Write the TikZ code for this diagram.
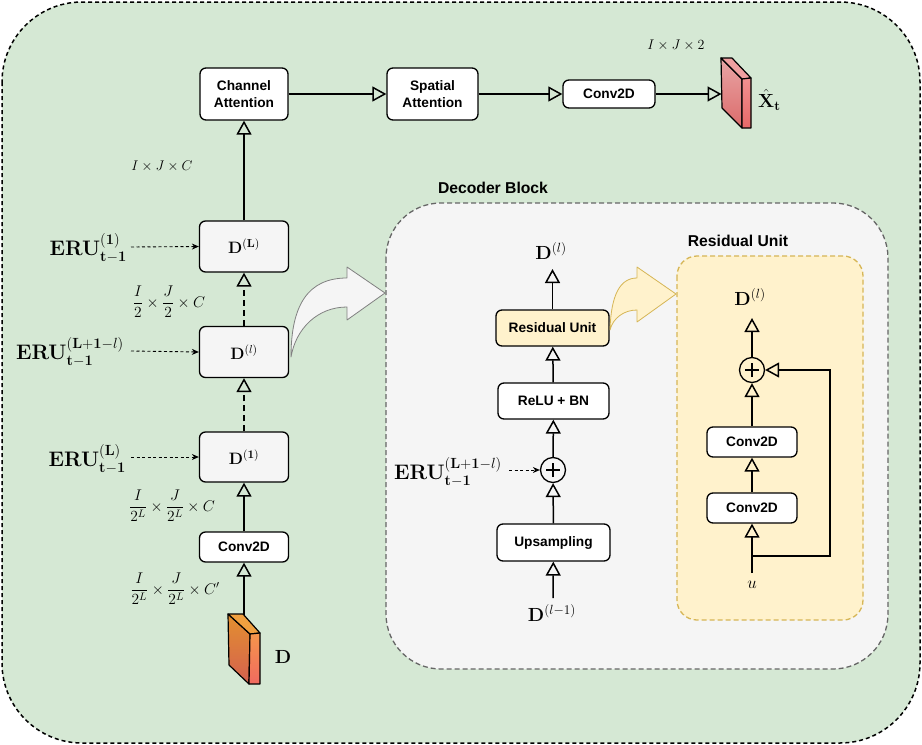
\RequirePackage{fix-cm}
\documentclass[tikz,border=0pt]{standalone}
\usepackage{amsmath}
\usepackage[no-math]{fontspec}
\setsansfont{Liberation Sans}
\usetikzlibrary{arrows.meta}
\definecolor{bggreen}{HTML}{D5E8D4}
\definecolor{bggray}{HTML}{F5F5F5}
\definecolor{ylw}{HTML}{FFF2CC}
\definecolor{ylwd}{HTML}{D6B656}
\definecolor{dgray}{HTML}{666666}
\definecolor{orA}{HTML}{E3902F}
\definecolor{orB}{HTML}{D4604F}
\definecolor{orC}{HTML}{F5964B}
\definecolor{orD}{HTML}{F06A60}
\definecolor{orT}{HTML}{F0A040}
\definecolor{rdA}{HTML}{E8A5A5}
\definecolor{rdB}{HTML}{DC6B6B}
\definecolor{rdC}{HTML}{F29090}
\definecolor{rdD}{HTML}{E86868}
\definecolor{rdT}{HTML}{F0A0A0}
\tikzset{
  box/.style={draw, line width=1.3pt, rounded corners=6pt, fill=white, align=center, inner sep=0pt,
    font=\sffamily\bfseries\fontsize{13.7}{16.5}\selectfont},
  gbox/.style={box, fill=bggray, font=\fontsize{16.5}{18}\selectfont},
  conn/.style={line width=1.5pt, -{Triangle[open,length=14pt,width=15pt]}},
  dconn/.style={conn, dash pattern=on 6pt off 4pt},
  eru/.style={line width=0.9pt, dash pattern=on 3pt off 2.5pt, -{Stealth[length=7pt,width=6pt]}},
  bigm/.style={inner sep=0pt, font=\fontsize{21}{24}\selectfont},
  medm/.style={inner sep=0pt, font=\fontsize{19}{22}\selectfont},
  dimm/.style={inner sep=0pt, font=\fontsize{14}{16}\selectfont},
  fracm/.style={inner sep=0pt, font=\fontsize{15.5}{18}\selectfont},
  title/.style={inner sep=0pt, font=\sffamily\bfseries\fontsize{15.7}{18}\selectfont},
  sumc/.style={circle, draw, line width=1.3pt, minimum size=25pt, inner sep=0pt},
  face/.style={draw, line width=1.2pt, line join=round}
}
\begin{document}
\begin{tikzpicture}[x=1pt,y=-1pt]
\useasboundingbox (0,0) rectangle (922,745);
% outer
\draw[line width=1.5pt, dash pattern=on 4pt off 3pt, fill=bggreen, rounded corners=80pt] (2,2) rectangle (920,743);
% decoder block background
\draw[dgray, line width=1.3pt, dash pattern=on 5pt off 3pt, fill=bggray, rounded corners=55pt] (386,203) rectangle (888,669);
\draw[ylwd, line width=1.3pt, dash pattern=on 5pt off 3pt, fill=ylw, rounded corners=20pt] (677,256) rectangle (863,620);
\node[title] (dectitle) at (493,188) {Decoder Block};
\node[title] (restitle) at (738,241) {Residual Unit};

% top row
\node[box, minimum width=88pt, minimum height=52pt] (ca) at (244,94) {Channel\\Attention};
\node[box, minimum width=91pt, minimum height=52pt] (sa) at (432.5,94) {Spatial\\Attention};
\node[box, minimum width=92pt, minimum height=28pt] (cv0) at (609,94) {Conv2D};
% output box
\path[face, top color=rdA, bottom color=rdB] (721,58) -- (742,79) -- (742,128) -- (722,108) -- cycle;
\path[face, fill=rdT] (721,58) -- (732,58) -- (751,78) -- (742,79) -- cycle;
\path[face, top color=rdC, bottom color=rdD] (742,79) -- (751,78) -- (751,128) -- (742,128) -- cycle;
\coordinate (xin) at (721.5,94);
\node[medm, anchor=west] (xhat) at (758,100) {$\hat{\mathbf{X}}_{\mathbf{t}}$};
\node[dimm] (dimtop) at (676,45) {$I\times J\times 2$};
\draw[conn] (ca) -- (sa);
\draw[conn] (sa) -- (cv0);
\draw[conn] (cv0) -- (xin);

% left column
\node[gbox, minimum width=89pt, minimum height=51pt] (dL) at (244,246.5) {$\mathbf{D}^{(\mathbf{L})}$};
\node[gbox, minimum width=89pt, minimum height=51pt] (dl) at (244,352) {$\mathbf{D}^{(l)}$};
\node[gbox, minimum width=89pt, minimum height=50pt] (d1) at (244,457) {$\mathbf{D}^{(\mathbf{1})}$};
\node[box, minimum width=89pt, minimum height=30pt] (cv1) at (244,547) {Conv2D};
% D input box
\path[face, top color=orA, bottom color=orB] (228,614) -- (250,634) -- (249,684) -- (229,665) -- cycle;
\path[face, fill=orT] (228,614) -- (243,614) -- (260,633) -- (250,634) -- cycle;
\path[face, top color=orC, bottom color=orD] (250,634) -- (260,633) -- (260,684) -- (249,684) -- cycle;
\coordinate (dtop) at (244,615);
\node[medm] (dlab) at (283,657) {$\mathbf{D}$};

\draw[conn] (dtop) -- (cv1);
\draw[conn] (cv1) -- (d1);
\draw[dconn] (d1) -- (dl);
\draw[dconn] (dl) -- (dL);
\draw[conn] (dL) -- (ca);

\node[dimm] (dim1) at (162,166) {$I\times J\times C$};
\node[fracm] (dim2) at (169,302) {$\dfrac{I}{2}\times\dfrac{J}{2}\times C$};
\node[fracm] (dim3) at (172,506) {$\dfrac{I}{2^L}\times\dfrac{J}{2^L}\times C$};
\node[fracm] (dim4) at (175,589) {$\dfrac{I}{2^L}\times\dfrac{J}{2^L}\times C'$};

\node[bigm, anchor=east] (eru1) at (127,248) {$\mathbf{ERU}^{(\mathbf{1})}_{\mathbf{t-1}}$};
\node[bigm, anchor=east] (eru2) at (124,352) {$\mathbf{ERU}^{(\mathbf{L+1-}l)}_{\mathbf{t-1}}$};
\node[bigm, anchor=east] (eru3) at (126,459) {$\mathbf{ERU}^{(\mathbf{L})}_{\mathbf{t-1}}$};
\coordinate (e1s) at (131,247);
\coordinate (e2s) at (131,351);
\coordinate (e3s) at (131,457);
\draw[eru] (e1s) -- (dL.west);
\draw[eru] (e2s) -- (dl.west);
\draw[eru] (e3s) -- (d1.west);

% big curved arrow to decoder block
\draw[draw=gray, line width=0.8pt, fill=bggray, line join=round] (291,357) .. controls (291,305) and (308,278) .. (347,278) -- (347,267) -- (385,293) -- (347,320) -- (347,307) .. controls (318,307) and (296,328) .. cycle;

% decoder block content
\node[box, fill=ylw, minimum width=113pt, minimum height=36pt] (ru) at (552.5,328) {Residual Unit};
\node[box, minimum width=111pt, minimum height=36pt] (relu) at (553.5,401) {ReLU + BN};
\node[sumc] (p1) at (553,470) {};
\draw[line width=1.3pt] ([xshift=-7pt]p1.center) -- ([xshift=7pt]p1.center);
\draw[line width=1.3pt] ([yshift=-7pt]p1.center) -- ([yshift=7pt]p1.center);
\node[box, minimum width=113pt, minimum height=37pt] (up) at (553.5,542.5) {Upsampling};
\node[medm] (dlo) at (551,251) {$\mathbf{D}^{(l)}$};
\node[medm] (dlm) at (552,613) {$\mathbf{D}^{(l-1)}$};
\node[bigm, anchor=east] (eru4) at (502,472) {$\mathbf{ERU}^{(\mathbf{L+1-}l)}_{\mathbf{t-1}}$};
\coordinate (dlotip) at (552.5,269);
\coordinate (dlms) at (553,598);
\coordinate (e4s) at (509,470);
\draw[conn] (ru) -- (dlotip);
\draw[conn] (relu) -- (ru);
\draw[conn] (p1) -- (relu);
\draw[conn] (up) -- (p1);
\draw[conn] (dlms) -- (up);
\draw[eru] (e4s) -- (p1.west);

% yellow curved arrow
\draw[ylwd, line width=0.8pt, fill=ylw, line join=round] (610,330) .. controls (611,295) and (620,278) .. (637,278) -- (637,267) -- (676,294) -- (637,322) -- (637,310) .. controls (624,310) and (613,318) .. cycle;

% residual unit content
\node[medm] (rdl) at (750,297) {$\mathbf{D}^{(l)}$};
\node[sumc] (p2) at (752,370) {};
\draw[line width=1.3pt] ([xshift=-7pt]p2.center) -- ([xshift=7pt]p2.center);
\draw[line width=1.3pt] ([yshift=-7pt]p2.center) -- ([yshift=7pt]p2.center);
\node[box, minimum width=90pt, minimum height=30pt] (rc2) at (752,442) {Conv2D};
\node[box, minimum width=90pt, minimum height=30pt] (rc1) at (752,508) {Conv2D};
\node[dimm, font=\fontsize{17}{19}\selectfont] (ulab) at (752,585) {$u$};
\coordinate (rdltip) at (752,318);
\coordinate (us) at (752,573);
\coordinate (br) at (752,556);
\coordinate (brc) at (830,556);
\coordinate (brt) at (830,370);
\draw[conn] (p2) -- (rdltip);
\draw[conn] (rc2) -- (p2);
\draw[conn] (rc1) -- (rc2);
\draw[conn] (us) -- (rc1);
\draw[conn] (br) -- (brc) -- (brt) -- (p2.east);
\end{tikzpicture}
\end{document}
